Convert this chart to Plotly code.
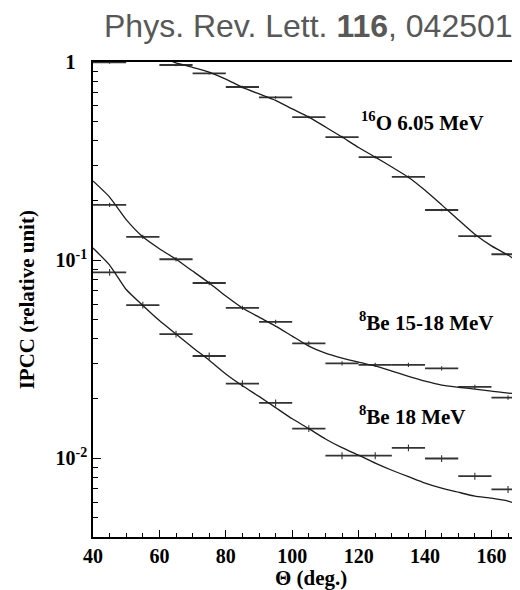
import plotly.graph_objects as go

# ---------------- data ----------------
angles_o16 = [45, 65, 75, 85, 95, 105, 115, 125, 135, 145, 155, 165]
ipcc_o16 = [0.995, 0.966, 0.877, 0.748, 0.663, 0.527, 0.418, 0.331, 0.263, 0.179, 0.132, 0.107]

angles_be = [45, 55, 65, 75, 85, 95, 105, 115, 125, 135, 145, 155, 165]
ipcc_be1518 = [0.190, 0.131, 0.101, 0.0766, 0.0574, 0.0488, 0.0380, 0.0301, 0.0296, 0.0296, 0.0284, 0.0229, 0.0202]
ipcc_be18 = [0.0867, 0.0593, 0.0423, 0.0328, 0.0238, 0.0190, 0.0141, 0.0103, 0.0103, 0.01128, 0.00996, 0.00811, 0.00695]

curve_theta = [40, 45, 50, 55, 60, 65, 70, 75, 80, 85, 90, 95, 100, 105, 110, 115,
               120, 125, 130, 135, 140, 145, 150, 155, 160, 165, 170]
curve_o16 = [1.6, 1.4, 1.25, 1.15, 1.07, 0.99, 0.94, 0.89, 0.82, 0.745, 0.69, 0.64, 0.58,
             0.527, 0.47, 0.418, 0.37, 0.331, 0.295, 0.262, 0.225, 0.190, 0.160, 0.135,
             0.118, 0.106, 0.093]
curve_be1518 = [0.251, 0.208, 0.160, 0.131, 0.114, 0.101, 0.088, 0.0766, 0.0658, 0.0573,
                0.0515, 0.0464, 0.0413, 0.0368, 0.0339, 0.0320, 0.0305, 0.0292, 0.0275,
                0.0259, 0.0245, 0.0234, 0.0228, 0.0223, 0.0218, 0.0213, 0.0211]
curve_be18 = [0.115, 0.0944, 0.0710, 0.0590, 0.0495, 0.0423, 0.0362, 0.0312, 0.0266,
              0.0232, 0.0205, 0.0180, 0.0158, 0.0141, 0.0125, 0.01130, 0.01035, 0.00944,
              0.00869, 0.00806, 0.00748, 0.00705, 0.00673, 0.00643, 0.00628, 0.00607,
              0.00566]

x_tickvals = [40, 60, 80, 100, 120, 140, 160]
y_tickvals = [0.01, 0.1, 1]
y_ticktext = ["10<sup>-2</sup>", "10<sup>-1</sup>",
              "1<span style='color:rgba(0,0,0,0)'><sup>-1</sup></span>"]
y_minor = [0.004, 0.005, 0.006, 0.007, 0.008, 0.009,
           0.02, 0.03, 0.04, 0.05, 0.06, 0.07, 0.08, 0.09,
           0.2, 0.3, 0.4, 0.5, 0.6, 0.7, 0.8, 0.9]

labels = ["<sup>16</sup>O 6.05 MeV", "<sup>8</sup>Be 15-18 MeV", "<sup>8</sup>Be 18 MeV"]

# ---------------- figure ----------------
SERIF = "Liberation Serif"
INK = "#1c1c1c"
BAR = "#333333"

fig = go.Figure()

for xs, ys, pct in [(angles_o16, ipcc_o16, 1.5), (angles_be, ipcc_be1518, 2.5),
                    (angles_be, ipcc_be18, 4.0)]:
    fig.add_trace(go.Scatter(
        x=xs, y=ys, mode="markers",
        marker=dict(size=1, color=BAR),
        error_x=dict(type="constant", value=5, width=0, thickness=1.8, color=BAR),
        error_y=dict(type="percent", value=pct, width=0, thickness=1.1, color=BAR),
        showlegend=False, hoverinfo="x+y"))

for cy in [curve_o16, curve_be1518, curve_be18]:
    fig.add_trace(go.Scatter(
        x=curve_theta, y=cy, mode="lines",
        line=dict(color=INK, width=1.3, shape="spline", smoothing=0.5),
        showlegend=False, hoverinfo="skip"))

tickfont = dict(family=SERIF, size=20, color="black", weight="bold")
labfont = dict(family=SERIF, size=21, color="black", weight="bold")

# page body has an 8px default margin, so the figure is 512x582 and offset by 8px
fig.update_layout(
    width=512, height=582,
    margin=dict(l=85, r=0, t=54, b=53),
    paper_bgcolor="white", plot_bgcolor="white",
    font=dict(family=SERIF, color="black"),
    xaxis=dict(range=[40, 168.6], showline=True, linecolor="black", linewidth=1.5,
               mirror=True, showgrid=False, zeroline=False,
               ticks="inside", ticklen=7, tickwidth=1.3, tickcolor="black",
               tickvals=x_tickvals, tickfont=tickfont,
               minor=dict(ticks="inside", ticklen=4, tickwidth=1.2, tickcolor="black",
                          dtick=5, tick0=40, showgrid=False)),
    yaxis=dict(type="log", range=[-2.398, 0], showline=True, linecolor="black",
               linewidth=1.5, mirror=False, showgrid=False, zeroline=False,
               ticks="inside", ticklen=8, tickwidth=1.3, tickcolor="black",
               tickvals=y_tickvals, ticktext=y_ticktext, tickfont=tickfont,
               minor=dict(ticks="inside", ticklen=5, tickwidth=1.2, tickcolor="black",
                          tickmode="array", tickvals=y_minor, showgrid=False)),
)

anns = [
    dict(text="Phys. Rev. Lett. <b>116</b>, 042501", xref="paper", yref="paper",
         x=0.988, y=1.076, xanchor="right", yanchor="middle", showarrow=False,
         font=dict(family="Liberation Sans", size=32, color="#585858")),
    dict(text="IPCC (relative unit)", xref="paper", yref="paper",
         x=-0.155, y=0.5, xanchor="center", yanchor="middle", textangle=-90,
         showarrow=False, font=labfont),
    dict(text="\u0398 (deg.)", xref="paper", yref="paper",
         x=0.51, y=-0.087, xanchor="center", yanchor="middle",
         showarrow=False, font=labfont),
    dict(text=labels[0], xref="paper", yref="paper", x=(359 - 93) / 427, y=(537 - 122) / 475,
         xanchor="left", yanchor="middle", showarrow=False, font=labfont),
    dict(text=labels[1], xref="paper", yref="paper", x=(357 - 93) / 427, y=(537 - 321) / 475,
         xanchor="left", yanchor="middle", showarrow=False, font=labfont),
    dict(text=labels[2], xref="paper", yref="paper", x=(357 - 93) / 427, y=(537 - 415) / 475,
         xanchor="left", yanchor="middle", showarrow=False, font=labfont),
]
fig.update_layout(annotations=anns)

fig.write_html("out.html")
